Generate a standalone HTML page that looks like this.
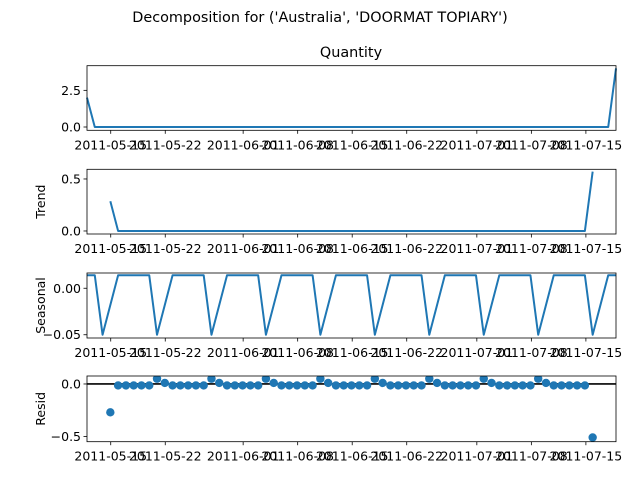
<!DOCTYPE html>
<html><head><meta charset="utf-8"><style>
body{margin:0;background:#fff}
svg{display:block;font-family:"DejaVu Sans","Liberation Sans",sans-serif}
</style></head><body>
<svg id="fig" width="640" height="480" viewBox="0 0 640 480">
<text x="320" y="22" font-size="14.4" text-anchor="middle">Decomposition for ('Australia', 'DOORMAT TOPIARY')</text>
<text x="351" y="57" font-size="14.4" text-anchor="middle">Quantity</text>
</svg>
<script>
// observation index (one per observation)
const dates=[0,1,2,3,4,5,6,7,8,9,10,11,12,13,14,15,16,17,18,19,20,21,22,23,24,25,26,27,28,29,30,31,32,33,34,35,36,37,38,39,40,41,42,43,44,45,46,47,48,49,50,51,52,53,54,55,56,57,58,59,60,61,62,63,64,65,66,67,68];
const observed=[2,0,0,0,0,0,0,0,0,0,0,0,0,0,0,0,0,0,0,0,0,0,0,0,0,0,0,0,0,0,0,0,0,0,0,0,0,0,0,0,0,0,0,0,0,0,0,0,0,0,0,0,0,0,0,0,0,0,0,0,0,0,0,0,0,0,0,0,4];
const trend=[null,null,null,0.286,0,0,0,0,0,0,0,0,0,0,0,0,0,0,0,0,0,0,0,0,0,0,0,0,0,0,0,0,0,0,0,0,0,0,0,0,0,0,0,0,0,0,0,0,0,0,0,0,0,0,0,0,0,0,0,0,0,0,0,0,0,0.571,null,null,null];
const seasonal=[0.014,0.014,
-0.05,-0.018,0.014,0.014,0.014,0.014,0.014,
-0.05,-0.018,0.014,0.014,0.014,0.014,0.014,
-0.05,-0.018,0.014,0.014,0.014,0.014,0.014,
-0.05,-0.018,0.014,0.014,0.014,0.014,0.014,
-0.05,-0.018,0.014,0.014,0.014,0.014,0.014,
-0.05,-0.018,0.014,0.014,0.014,0.014,0.014,
-0.05,-0.018,0.014,0.014,0.014,0.014,0.014,
-0.05,-0.018,0.014,0.014,0.014,0.014,0.014,
-0.05,-0.018,0.014,0.014,0.014,0.014,0.014,
-0.05,-0.018,0.014,0.014];
const resid=[null,null,null,-0.27,-0.014,-0.014,-0.014,-0.014,-0.014,
0.05,0.01,-0.014,-0.014,-0.014,-0.014,-0.014,
0.05,0.01,-0.014,-0.014,-0.014,-0.014,-0.014,
0.05,0.01,-0.014,-0.014,-0.014,-0.014,-0.014,
0.05,0.01,-0.014,-0.014,-0.014,-0.014,-0.014,
0.05,0.01,-0.014,-0.014,-0.014,-0.014,-0.014,
0.05,0.01,-0.014,-0.014,-0.014,-0.014,-0.014,
0.05,0.01,-0.014,-0.014,-0.014,-0.014,-0.014,
0.05,0.01,-0.014,-0.014,-0.014,-0.014,-0.014,
-0.51,null,null,null];
// tick dates as day offsets from 2011-05-15
const xTickDays=[0,7,17,24,31,38,47,54,61];
const xTickLabels=["2011-05-15","2011-05-22","2011-06-01","2011-06-08","2011-06-15","2011-06-22","2011-07-01","2011-07-08","2011-07-15"];
const obsTicks=[0,2.5], obsTickLabels=["0.0","2.5"];
const trendTicks=[0,0.5], trendTickLabels=["0.0","0.5"];
const seasTicks=[-0.05,0], seasTickLabels=["−0.05","0.00"];
const residTicks=[-0.5,0], residTickLabels=["−0.5","0.0"];

const NS="http://www.w3.org/2000/svg";
const svg=document.getElementById('fig');
const L=87,R=616,X0=0,X1=68;
const xs=d=>L+(d-X0)/(X1-X0)*(R-L);
const dayToIdx=day=>3.05+day*1.0013;
function mk(tag,attrs,parent){const e=document.createElementNS(NS,tag);for(const k in attrs)e.setAttribute(k,attrs[k]);(parent||svg).appendChild(e);return e;}

function panel(name,top,bot,ymin,ymax,ticks,labels,ylabel){
  const ys=v=>bot-(v-ymin)/(ymax-ymin)*(bot-top);
  const g=mk('g',{});
  
  
  xTickDays.forEach((d,i)=>{
    const x=xs(dayToIdx(d));
    const t=mk('line',{x1:x,x2:x,y1:bot,y2:bot+3.5,stroke:'#000','stroke-width':0.8},g);
    
    
    const tx=mk('text',{x:x,y:bot+19,'font-size':'12.5','text-anchor':'middle'},g);
    
    
    tx.textContent=xTickLabels[i];
  });
  ticks.forEach((v,i)=>{
    const y=ys(v);
    const t=mk('line',{x1:L-3.5,x2:L,y1:y,y2:y,stroke:'#000','stroke-width':0.8},g);
    
    
    const tx=mk('text',{x:L-6,y:y+4.5,'font-size':'12.5','text-anchor':'end'},g);
    
    
    tx.textContent=labels[i];
  });
  if(ylabel){
    const cy=(top+bot)/2;
    const yl=mk('text',{x:0,y:0,'font-size':'12.5','text-anchor':'middle',transform:`translate(45,${cy}) rotate(-90)`},g);
    
    
    yl.textContent=ylabel;
  }
  return {g,ys};
}
function line(p,vals,name){
  let d='',pen=false;
  vals.forEach((v,i)=>{ if(v===null){pen=false;return;} d+=(pen?'L':'M')+xs(dates[i]).toFixed(2)+' '+p.ys(v).toFixed(2);pen=true;});
  const e=mk('path',{d:d,fill:'none',stroke:'#1f77b4','stroke-width':2,'stroke-linejoin':'round'},p.g);
  
  
}
function frame(p,top,bot,name){
  const r=mk('rect',{x:L,y:top,width:R-L,height:bot-top,fill:'none',stroke:'#000','stroke-width':0.8},p.g);
  
  
}
function clip(id,top,bot){const c=mk('clipPath',{id:id});mk('rect',{x:L,y:top,width:R-L,height:bot-top},c);}

let p=panel('observed',65.7,130.3,-0.225,4.18,obsTicks,obsTickLabels,null);
line(p,observed,'observed-line'); frame(p,65.7,130.3,'observed');
p=panel('trend',169.3,234,-0.029,0.593,trendTicks,trendTickLabels,'Trend');
line(p,trend,'trend-line'); frame(p,169.3,234,'trend');
p=panel('seasonal',273,338,-0.0535,0.0164,seasTicks,seasTickLabels,'Seasonal');
line(p,seasonal,'seasonal-line'); frame(p,273,338,'seasonal');
clip('rc',376,441.7);
p=panel('resid',376,441.7,-0.55,0.076,residTicks,residTickLabels,'Resid');
const zl=mk('line',{x1:L,x2:R,y1:p.ys(0),y2:p.ys(0),stroke:'#000','stroke-width':1.6},p.g);


const dg=mk('g',{'clip-path':'url(#rc)'},p.g);
resid.forEach((v,i)=>{
  if(v===null)return;
  const c=mk('circle',{cx:xs(dates[i]),cy:p.ys(v),r:4.2,fill:'#1f77b4'},dg);
  
  
});
frame(p,376,441.7,'resid');
</script>
</body></html>
